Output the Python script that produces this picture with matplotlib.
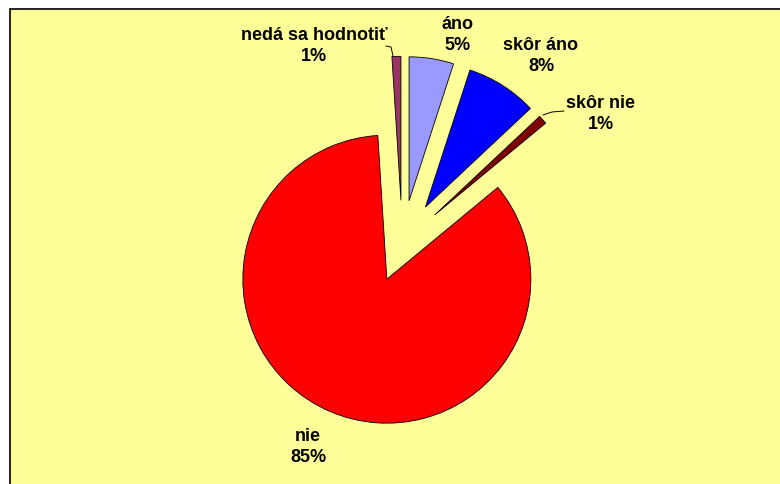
import matplotlib.pyplot as plt
from matplotlib.patches import Rectangle

# data
labels = ['áno', 'skôr áno', 'skôr nie', 'nie', 'nedá sa hodnotiť']
values = [5, 8, 1, 85, 1]
colors = ['#9999FF', '#0000FF', '#800000', '#FF0000', '#993366']
explode_frac = [0.3, 0.3, 0.3, 0.27, 0.3]

# label positions in pixels (from top-left of the picture)
label_pos = [(458, 35), (541, 56), (601, 114), (308, 447), (314, 46)]

H = 485
R = 144
fig = plt.figure(figsize=(7.8, 4.85), dpi=100)
fig.patch.set_facecolor('white')
ax = fig.add_axes([0, 0, 1, 1])

# yellow plot area with black border
ax.add_patch(Rectangle((9.5, -5), 800, H - 9.5 + 5, facecolor='#FFFF99',
                       edgecolor='black', linewidth=1.2, zorder=0))

# pie explode offsets are in data units, so scale by radius
explode = [e * R for e in explode_frac]
wedges, _ = ax.pie(values, colors=colors, explode=explode, startangle=90,
                   counterclock=False, radius=R, center=(402.3, H - 244.5),
                   wedgeprops={'edgecolor': 'black', 'linewidth': 0.6},
                   frame=True)

for i in range(len(labels)):
    x, y = label_pos[i]
    ax.text(x, H - y, labels[i] + '\n' + str(values[i]) + '%',
            ha='center', va='center', fontsize=13, fontweight='bold',
            family='Liberation Sans', linespacing=1.35)

# leader lines
ax.plot([386, 391, 393], [H - 47, H - 48, H - 57], color='black', lw=0.7)
ax.plot([543, 552, 564], [H - 116, H - 113, H - 112], color='black', lw=0.7)

ax.set_xlim(0, 780)
ax.set_ylim(0, H)
ax.set_aspect('equal')
ax.axis('off')

fig.savefig('out.png', dpi=100, facecolor='white')
